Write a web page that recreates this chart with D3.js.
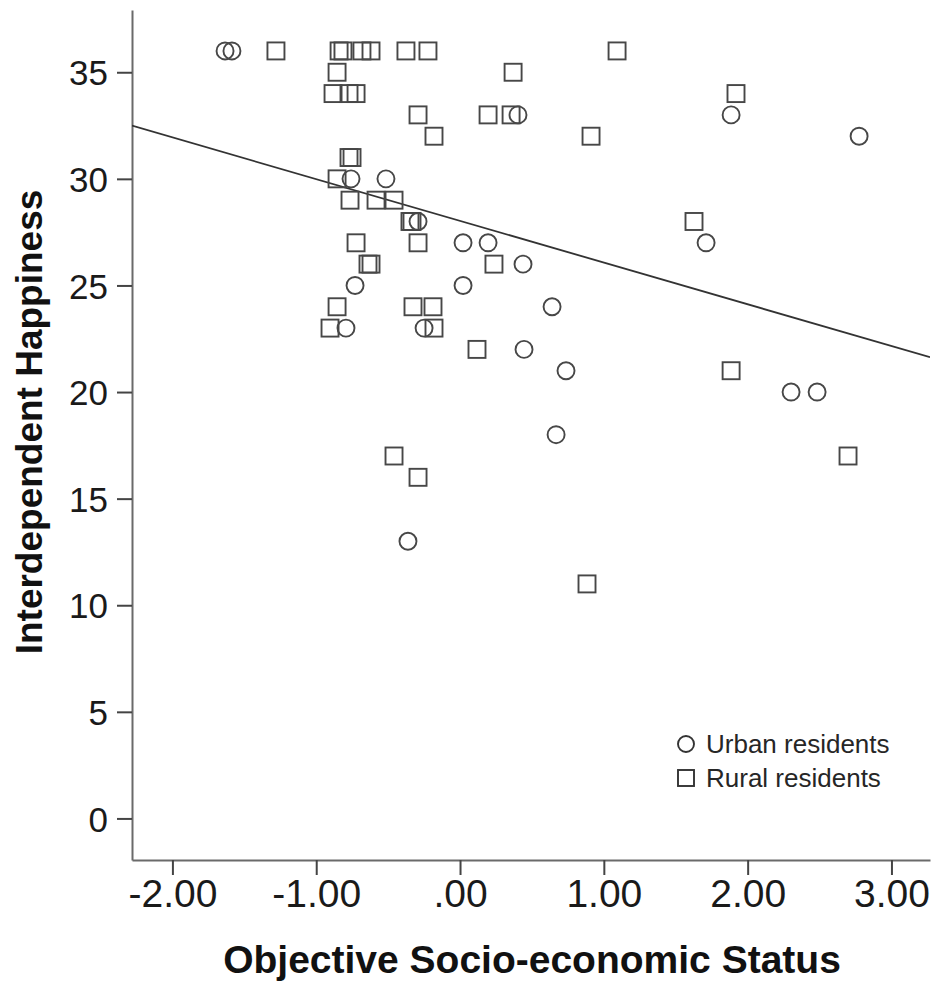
<!DOCTYPE html>
<html>
<head>
<meta charset="utf-8">
<script src="https://cdn.jsdelivr.net/npm/d3@7/dist/d3.min.js"></script>
<style>
  html, body { margin: 0; padding: 0; background: #fff; }
  svg { display: block; }
</style>
</head>
<body>
<svg id="chart" width="934" height="986"></svg>
<script>
// ---- data ----
const urbanX = [-1.634, -1.586, 0.403, 1.885, 2.775, -0.758, -0.515, -0.292, 0.021, 0.195, 1.711, 0.438, -0.730, 0.021, 0.640, -0.793, -0.250, 0.445, 0.737, 2.302, 2.483, 0.668, -0.362];
const urbanY = [36, 36, 33, 33, 32, 30, 30, 28, 27, 27, 27, 26, 25, 25, 24, 23, 23, 22, 21, 20, 20, 18, 13];

const ruralX = [-1.280, -0.841, -0.814, -0.682, -0.619, -0.376, -0.223, 1.092,
                -0.855, 0.369,
                -0.883, -0.772, -0.723, 1.919,
                -0.292, 0.195, 0.355,
                -0.181, 0.911,
                -0.772, -0.751,
                -0.855,
                -0.765, -0.584, -0.459,
                -0.348, -0.334, 1.627,
                -0.723, -0.292,
                -0.640, -0.619, 0.236,
                -0.855, -0.327, -0.188,
                -0.904, -0.181,
                0.118,
                1.885,
                -0.459, 2.698,
                -0.292,
                0.883];
const ruralY = [36, 36, 36, 36, 36, 36, 36, 36,
                35, 35,
                34, 34, 34, 34,
                33, 33, 33,
                32, 32,
                31, 31,
                30,
                29, 29, 29,
                28, 28, 28,
                27, 27,
                26, 26, 26,
                24, 24, 24,
                23, 23,
                22,
                21,
                17, 17,
                16,
                11];

const fitIntercept = 28.03;
const fitSlope = -1.957;

const xTicks = [-2, -1, 0, 1, 2, 3];
const xTickLabels = ["-2.00", "-1.00", ".00", "1.00", "2.00", "3.00"];
const yTicks = [0, 5, 10, 15, 20, 25, 30, 35];
const yTickLabels = ["0", "5", "10", "15", "20", "25", "30", "35"];

const legendLabels = ["Urban residents", "Rural residents"];
const xTitle = "Objective Socio-economic Status";
const yTitle = "Interdependent Happiness";

// ---- layout ----
const svg = d3.select("#chart");
const plotL = 132, plotR = 930, plotT = 10, plotB = 860;
const x = d3.scaleLinear().domain([-2.281, 3.268]).range([plotL, plotR]);
const y = d3.scaleLinear().domain([-1.95, 37.92]).range([plotB, plotT]);

const axisColor = "#6a6a6a";
const markColor = "#474747";
const font = "'Liberation Sans', Arial, sans-serif";

// clip
svg.append("defs").append("clipPath").attr("id", "plotclip")
  .append("rect").attr("x", plotL).attr("y", plotT).attr("width", plotR - plotL).attr("height", plotB - plotT);

// axes
const xAxis = d3.axisBottom(x).tickValues(xTicks).tickSize(15).tickSizeOuter(0)
  .tickFormat((d, i) => xTickLabels[i]);
const gx = svg.append("g").attr("transform", `translate(0,${plotB})`).call(xAxis);
gx.select(".domain").attr("stroke", axisColor).attr("stroke-width", 2);
gx.selectAll(".tick line").attr("stroke", "#444").attr("stroke-width", 2);
gx.selectAll(".tick text").attr("fill", "#1a1a1a").attr("font-family", font)
  .attr("font-size", 39).attr("dy", 0).attr("y", 47);

const yAxis = d3.axisLeft(y).tickValues(yTicks).tickSize(15).tickSizeOuter(0)
  .tickFormat((d, i) => yTickLabels[i]);
const gy = svg.append("g").attr("transform", `translate(${plotL},0)`).call(yAxis);
gy.select(".domain").attr("stroke", axisColor).attr("stroke-width", 2);
gy.selectAll(".tick line").attr("stroke", "#444").attr("stroke-width", 2);
gy.selectAll(".tick text").attr("fill", "#1a1a1a").attr("font-family", font)
  .attr("font-size", 35).attr("x", -24).attr("dy", "0.36em");

// fit line
const xd = x.domain();
svg.append("line")
  .attr("clip-path", "url(#plotclip)")
  .attr("x1", x(xd[0])).attr("y1", y(fitIntercept + fitSlope * xd[0]))
  .attr("x2", x(xd[1])).attr("y2", y(fitIntercept + fitSlope * xd[1]))
  .attr("stroke", "#333").attr("stroke-width", 1.8);

// points
const r = 8.5, s = 17;
const urban = urbanX.map((v, i) => ({x: v, y: urbanY[i]}));
const rural = ruralX.map((v, i) => ({x: v, y: ruralY[i]}));

svg.append("g").selectAll("rect").data(rural).join("rect")
  .attr("x", d => x(d.x) - s / 2).attr("y", d => y(d.y) - s / 2)
  .attr("width", s).attr("height", s)
  .attr("fill", "none").attr("stroke", markColor).attr("stroke-width", 1.9);

svg.append("g").selectAll("circle").data(urban).join("circle")
  .attr("cx", d => x(d.x)).attr("cy", d => y(d.y)).attr("r", r)
  .attr("fill", "none").attr("stroke", markColor).attr("stroke-width", 1.9);

// legend
const lg = svg.append("g");
lg.append("circle").attr("cx", 686).attr("cy", 744).attr("r", 8)
  .attr("fill", "none").attr("stroke", "#333").attr("stroke-width", 1.9);
lg.append("rect").attr("x", 678).attr("y", 770).attr("width", 16).attr("height", 16)
  .attr("fill", "none").attr("stroke", "#333").attr("stroke-width", 1.9);
lg.selectAll("text").data(legendLabels).join("text")
  .attr("x", 706).attr("y", (d, i) => 753 + i * 34)
  .attr("font-family", font).attr("font-size", 26).attr("fill", "#262626")
  .text(d => d);

// titles
svg.append("text").attr("x", 532).attr("y", 973).attr("text-anchor", "middle")
  .attr("font-family", font).attr("font-weight", "bold").attr("font-size", 39)
  .attr("fill", "#111").text(xTitle);
svg.append("text").attr("transform", "translate(42,422) rotate(-90)").attr("text-anchor", "middle")
  .attr("font-family", font).attr("font-weight", "bold").attr("font-size", 37)
  .attr("fill", "#111").text(yTitle);
</script>
</body>
</html>
